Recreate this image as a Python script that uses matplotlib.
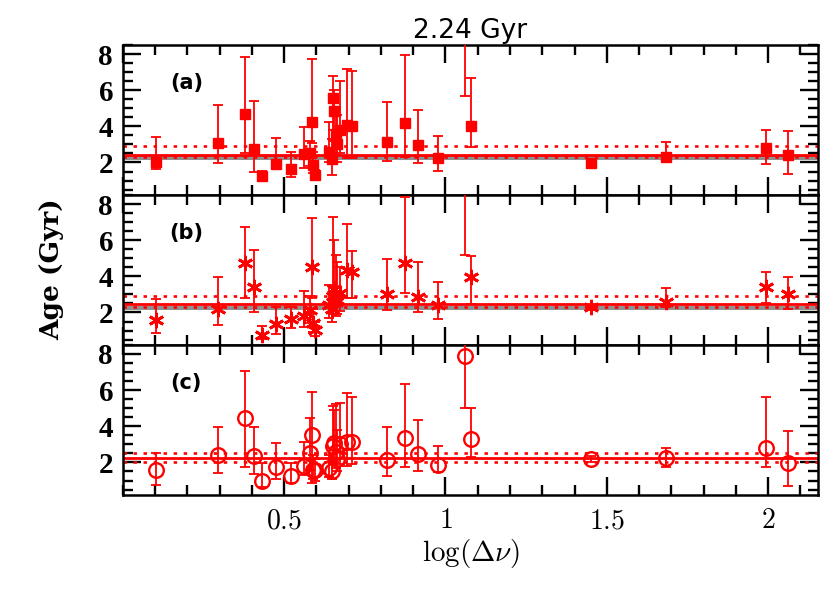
import matplotlib
matplotlib.use('Agg')
import matplotlib.pyplot as plt
import numpy as np
from matplotlib.ticker import MultipleLocator

plt.rcParams['mathtext.fontset'] = 'cm'

# log(delta nu) of each star, shared by the three panels
log_dnu = [0.103, 0.296, 0.378, 0.407, 0.430, 0.476, 0.521, 0.562, 0.579, 0.587,
           0.590, 0.596, 0.640, 0.648, 0.652, 0.656, 0.660, 0.664, 0.672, 0.694,
           0.710, 0.820, 0.876, 0.915, 0.977, 1.059, 1.080, 1.451, 1.685, 1.993,
           2.062]

# panel (a): age, lower bound, upper bound
age_a = [2.04, 3.09, 4.68, 2.72, 1.25, 1.91, 1.65, 2.45, 2.50, 4.25,
         1.86, 1.30, 2.59, 2.20, 5.55, 4.85, 3.60, 3.00, 3.80, 4.07,
         4.00, 3.15, 4.16, 2.95, 2.23, 9.50, 4.02, 1.95, 2.32, 2.78,
         2.39]
lo_a = [1.62, 1.98, 2.50, 1.49, 0.95, 1.67, 1.18, 1.67, 1.80, 3.06,
        1.40, 1.10, 2.04, 1.30, 3.80, 3.20, 2.40, 2.00, 2.50, 2.23,
        2.23, 2.10, 2.32, 1.98, 1.54, 5.69, 2.84, 1.85, 2.04, 1.91,
        1.34]
hi_a = [3.42, 5.18, 7.85, 5.42, 1.55, 3.33, 2.60, 3.94, 3.20, 7.72,
        2.60, 1.60, 4.25, 3.30, 6.80, 6.00, 5.00, 4.60, 6.50, 7.17,
        7.08, 5.33, 7.94, 4.90, 3.46, 12.0, 6.65, 2.05, 3.11, 3.79,
        3.74]

# panel (b)
age_b = [1.58, 2.17, 4.72, 3.39, 0.75, 1.36, 1.62, 1.80, 2.13, 4.53,
         1.40, 1.03, 2.40, 2.20, 2.90, 3.30, 2.60, 2.70, 3.10, 4.35,
         4.25, 3.02, 4.75, 2.87, 2.41, 9.50, 3.98, 2.28, 2.59, 3.39,
         3.02]
lo_b = [0.88, 1.29, 2.78, 2.04, 0.51, 0.81, 1.12, 1.20, 1.40, 2.78,
        0.90, 0.70, 1.70, 1.50, 1.90, 2.10, 1.80, 1.90, 2.10, 2.78,
        2.78, 2.13, 3.09, 2.04, 1.62, 5.18, 2.47, 2.15, 2.30, 2.50,
        2.17]
hi_b = [2.74, 3.98, 6.71, 5.45, 1.25, 2.32, 2.32, 3.20, 2.90, 7.24,
        2.20, 1.50, 3.50, 3.00, 7.30, 6.00, 5.20, 4.80, 4.50, 6.89,
        5.40, 4.94, 8.40, 4.81, 3.70, 12.0, 5.12, 2.40, 3.37, 4.25,
        3.98]

# panel (c)
age_c = [1.58, 2.41, 4.44, 2.36, 0.99, 1.77, 1.25, 1.80, 2.54, 3.52,
         1.58, 1.58, 1.67, 1.50, 2.90, 3.06, 2.60, 2.20, 3.00, 3.15,
         3.15, 2.13, 3.37, 2.45, 1.86, 7.89, 3.28, 2.19, 2.23, 2.78,
         1.99]
lo_c = [0.75, 1.43, 1.77, 1.36, 0.66, 1.06, 0.84, 1.30, 1.60, 0.84,
        1.10, 1.00, 1.20, 1.10, 1.90, 2.00, 1.70, 1.50, 1.90, 1.80,
        1.90, 1.25, 1.77, 1.54, 1.45, 5.00, 2.32, 2.05, 1.73, 1.77,
        0.71]
hi_c = [2.50, 3.94, 7.06, 3.94, 1.95, 3.09, 1.95, 3.15, 4.47, 5.91,
        2.40, 2.20, 2.40, 2.20, 5.12, 4.90, 5.23, 3.80, 5.30, 5.86,
        5.60, 3.94, 6.32, 4.35, 2.91, 10.0, 5.00, 2.33, 2.78, 5.60,
        3.74]

# reference lines: solid, dotted low, dotted high
mean_ages = [2.41, 2.48, 2.23]
dot_lo = [2.28, 2.28, 2.04]
dot_hi = [2.91, 2.91, 2.54]
true_age = 2.24
band_half = 0.12

panels = [
    ('(a)', age_a, lo_a, hi_a, dict(marker='s', ms=7, mfc='red', mec='red', mew=1.0), True),
    ('(b)', age_b, lo_b, hi_b, dict(marker=(6, 2, 0), ms=11, mfc='red', mec='red', mew=2.0), True),
    ('(c)', age_c, lo_c, hi_c, dict(marker='o', ms=10.5, mfc='none', mec='red', mew=1.7), False),
]

fig = plt.figure(figsize=(8.3, 5.92), dpi=100)
left, width, height = 0.148, 0.8377, 0.2534
bottoms = [0.6706, 0.4172, 0.1639]

x = np.array(log_dnu)
axes = []
for i, (lab, age, lo, hi, mstyle, band) in enumerate(panels):
    ax = fig.add_axes([left, bottoms[i], width, height])
    axes.append(ax)
    age = np.array(age)
    yerr = [age - np.array(lo), np.array(hi) - age]
    if band:
        ax.axhspan(true_age - band_half, true_age + band_half, color='#8f8f8f', lw=0, zorder=1)
    ax.axhline(mean_ages[i], color='red', lw=2.0, zorder=2)
    for v in (dot_lo[i], dot_hi[i]):
        ax.axhline(v, color='red', lw=1.9, ls=(0, (1.3, 2.5)), zorder=2)
    ax.errorbar(x, age, yerr=yerr, fmt='none', ecolor='red', elinewidth=1.3,
                capsize=3.5, capthick=1.3, zorder=3)
    ax.plot(x, age, ls='none', zorder=4, **mstyle)

    ax.set_xlim(0.0, 2.155)
    ax.set_ylim(0.2, 8.5)
    ax.xaxis.set_major_locator(MultipleLocator(0.5))
    ax.xaxis.set_minor_locator(MultipleLocator(0.1))
    ax.yaxis.set_major_locator(MultipleLocator(2))
    ax.yaxis.set_minor_locator(MultipleLocator(0.5))
    ax.tick_params(which='both', direction='in', top=True, right=True, color='black')
    ax.tick_params(which='major', length=13, width=1.7)
    ax.tick_params(which='minor', length=7, width=1.7)
    for s in ax.spines.values():
        s.set_linewidth(1.8)
    ax.set_yticks([2, 4, 6, 8])
    ax.set_yticklabels(['2', '4', '6', '8'], fontfamily='Liberation Serif',
                       fontweight='bold', fontsize=21)
    ax.tick_params(axis='y', pad=7)
    ax.text(0.197, 6.4, lab, fontsize=15, fontweight='bold', fontfamily='DejaVu Sans',
            ha='center', va='center')
    if i < 2:
        ax.tick_params(labelbottom=False)

axes[-1].set_xticks([0.5, 1.0, 1.5, 2.0])
axes[-1].set_xticklabels(['$0.5$', '$1$', '$1.5$', '$2$'], fontsize=20)
axes[-1].tick_params(axis='x', pad=8)
axes[-1].set_xlabel(r'$\log(\Delta\nu)$', fontsize=21, labelpad=2)
axes[0].set_title('2.24 Gyr', fontsize=19, fontfamily='DejaVu Sans', pad=5)
fig.text(0.062, 0.545, 'Age (Gyr)', rotation=90, fontsize=19, fontweight='bold',
         fontfamily='DejaVu Serif', ha='center', va='center')

fig.savefig('out.png', dpi=100)
